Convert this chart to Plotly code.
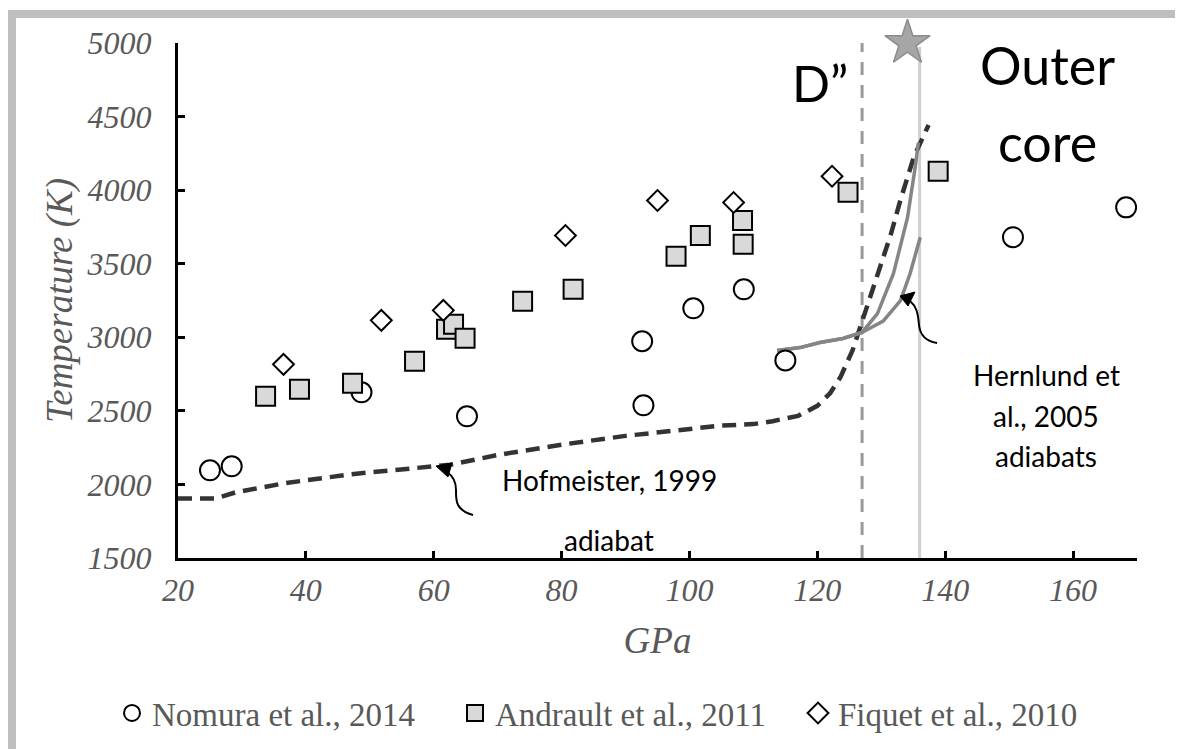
import plotly.graph_objects as go

# ---------------- data ----------------
nomura_gpa = [25.0, 28.4, 48.7, 65.2, 92.6, 92.8, 100.6, 108.5, 115.0, 150.6, 168.3]
nomura_k = [2096, 2123, 2626, 2463, 2973, 2538, 3197, 3326, 2843, 3680, 3883]

andrault_gpa = [33.7, 39.0, 47.3, 57.0, 62.0, 63.1, 64.9, 73.9, 81.8, 97.9, 101.7, 108.3, 108.4, 124.8, 138.9]
andrault_k = [2599, 2646, 2687, 2837, 3055, 3089, 2994, 3245, 3326, 3550, 3692, 3794, 3632, 3985, 4128]

fiquet_gpa = [36.5, 51.8, 61.5, 80.6, 95.0, 106.9, 122.3]
fiquet_k = [2816, 3115, 3183, 3692, 3930, 3916, 4094]

hof_gpa = [20, 26, 29, 36.5, 47, 55, 62.6, 70, 80, 90, 100, 105, 110, 113, 117, 120, 122, 123.6, 125.5,
           127.1, 129.9, 131.5, 133, 135.1, 137.4]
hof_k = [1905, 1905, 1946, 2007, 2069, 2100, 2134, 2200, 2270, 2330, 2380, 2400, 2410, 2430, 2466, 2534,
         2620, 2728, 2910, 3117, 3477, 3700, 3933, 4226, 4443]

hern_upper_gpa = [113.7, 117.3, 120.4, 124.0, 127.0, 129.4, 131.9, 134.1, 135.3, 135.8]
hern_upper_k = [2910, 2930, 2964, 2992, 3033, 3161, 3432, 3813, 4153, 4323]
hern_lower_gpa = [113.7, 117.3, 120.4, 124.0, 127.0, 130.3, 133.0, 134.5, 136.1]
hern_lower_k = [2910, 2930, 2964, 2992, 3033, 3110, 3250, 3432, 3680]

d2_gpa = 127.0        # D'' boundary
cmb_gpa = 136.0       # core-mantle boundary
star_gpa = [134.1]
star_k = [5000]

x_ticks = [20, 40, 60, 80, 100, 120, 140, 160]
y_ticks = [1500, 2000, 2500, 3000, 3500, 4000, 4500, 5000]

# ---------------- layout geometry ----------------
OFF = 8  # page body margin
W, H = 1183 - OFF, 749 - OFF
L, T = 178 - OFF, 43 - OFF
R = W - (1137 - OFF)
B = H - (558 - OFF)
PW, PH = W - L - R, H - T - B


def px(xp):
    return (xp - OFF - L) / PW


def py(yp):
    return (H - B - (yp - OFF)) / PH


def path(cmds):
    out = []
    for c in cmds:
        if isinstance(c, str):
            out.append(c)
        else:
            out.append(f"{px(c[0]):.5f},{py(c[1]):.5f}")
    return " ".join(out)


SERIF = "Liberation Serif"
SANS = "Lato"
GREY_TXT = "#595959"

fig = go.Figure()

fig.add_trace(go.Scatter(x=hof_gpa, y=hof_k, mode="lines", showlegend=False,
                         line=dict(color="#333333", width=4.5, dash="14px,8px"), hoverinfo="skip"))
fig.add_trace(go.Scatter(x=hern_upper_gpa, y=hern_upper_k, mode="lines", showlegend=False,
                         line=dict(color="#858585", width=3.5), hoverinfo="skip"))
fig.add_trace(go.Scatter(x=hern_lower_gpa, y=hern_lower_k, mode="lines", showlegend=False,
                         line=dict(color="#858585", width=3.5), hoverinfo="skip"))

fig.add_trace(go.Scatter(x=nomura_gpa, y=nomura_k, mode="markers", name="Nomura et al., 2014",
                         marker=dict(symbol="circle", size=20, color="white",
                                     line=dict(color="black", width=2))))
fig.add_trace(go.Scatter(x=andrault_gpa, y=andrault_k, mode="markers", name="Andrault et al., 2011",
                         marker=dict(symbol="square", size=19, color="#d9d9d9",
                                     line=dict(color="black", width=2))))
fig.add_trace(go.Scatter(x=fiquet_gpa, y=fiquet_k, mode="markers", name="Fiquet et al., 2010",
                         marker=dict(symbol="diamond", size=16, color="white",
                                     line=dict(color="black", width=2))))
fig.add_trace(go.Scatter(x=star_gpa, y=star_k, mode="markers", showlegend=False, cliponaxis=False,
                         marker=dict(symbol="star", size=34, color="#a6a6a6",
                                     line=dict(color="#8c8c8c", width=1.5))))

shapes = [
    # D'' dashed boundary
    dict(type="line", xref="x", yref="paper", x0=d2_gpa, x1=d2_gpa, y0=0, y1=1.0, layer="below",
         line=dict(color="#9a9a9a", width=3, dash="13px,10px")),
    # CMB solid line
    dict(type="line", xref="x", yref="paper", x0=cmb_gpa, x1=cmb_gpa, y0=0, y1=py(47), layer="below",
         line=dict(color="#cfcfcf", width=3)),
    # frame
    dict(type="path", xref="paper", yref="paper",
         path=path(["M", (12, 770), "L", (12, 14), "L", (1181, 14), "L", (1181, 770)]),
         line=dict(color="#bfbfbf", width=8)),
    # Hofmeister curved arrow
    dict(type="path", xref="paper", yref="paper",
         path=path(["M", (473, 515), "C", (455, 510), (456, 500), (456, 490),
                    "C", (456, 481), (453, 476), (447, 472)]),
         line=dict(color="black", width=2)),
    dict(type="path", xref="paper", yref="paper",
         path=path(["M", (436, 466), "L", (452, 463), "L", (448, 477), "Z"]),
         fillcolor="black", line=dict(color="black", width=1)),
    # Hernlund curved arrow
    dict(type="path", xref="paper", yref="paper",
         path=path(["M", (937, 343), "C", (925, 341), (920, 335), (919, 325),
                    "C", (918, 312), (916, 306), (910, 301)]),
         line=dict(color="black", width=2)),
    dict(type="path", xref="paper", yref="paper",
         path=path(["M", (900, 296), "L", (915, 292), "L", (908, 306), "Z"]),
         fillcolor="black", line=dict(color="black", width=1)),
]


def ann(text, x, y, size):
    return dict(text=text, xref="paper", yref="paper", x=px(x), y=py(y), xanchor="center",
                yanchor="middle", showarrow=False, font=dict(family=SANS, size=size, color="black"))


annotations = [
    ann("D\u201d", 820, 83, 50),
    ann("Outer", 1047, 65, 52),
    ann("core", 1047, 142, 52),
    ann("Hofmeister, 1999", 609, 480, 28),
    ann("adiabat", 609, 540, 28),
    ann("Hernlund et", 1046, 375, 28),
    ann("al., 2005", 1046, 416, 28),
    ann("adiabats", 1046, 456, 28),
]

fig.update_layout(
    width=W, height=H,
    margin=dict(l=L, r=R, t=T, b=B, autoexpand=False),
    paper_bgcolor="white", plot_bgcolor="white",
    shapes=shapes, annotations=annotations,
    legend=dict(orientation="h", x=px(112), y=py(713), xanchor="left", yanchor="middle",
                font=dict(family=SERIF, size=33, color=GREY_TXT), itemsizing="trace",
                entrywidth=298, entrywidthmode="pixels",
                bgcolor="rgba(0,0,0,0)", tracegroupgap=0),
    xaxis=dict(range=[20, 170], tickvals=x_ticks, ticks="inside", ticklen=7, tickwidth=2.5,
               tickcolor="black", showline=True, linecolor="black", linewidth=3, showgrid=False,
               zeroline=False, ticklabelstandoff=2,
               tickfont=dict(family=SERIF, size=32, color=GREY_TXT, style="italic"),
               title=dict(text="GPa", standoff=20,
                          font=dict(family=SERIF, size=37, color=GREY_TXT, style="italic"))),
    yaxis=dict(range=[1500, 5000], tickvals=y_ticks, ticks="inside", ticklen=7, tickwidth=2.5,
               tickcolor="black", showline=True, linecolor="black", linewidth=3, showgrid=False,
               zeroline=False, ticklabelstandoff=17,
               tickfont=dict(family=SERIF, size=32, color=GREY_TXT, style="italic"),
               title=dict(text="Temperature (K)", standoff=3,
                          font=dict(family=SERIF, size=37, color=GREY_TXT, style="italic"))),
)

fig.write_html("out.html")
